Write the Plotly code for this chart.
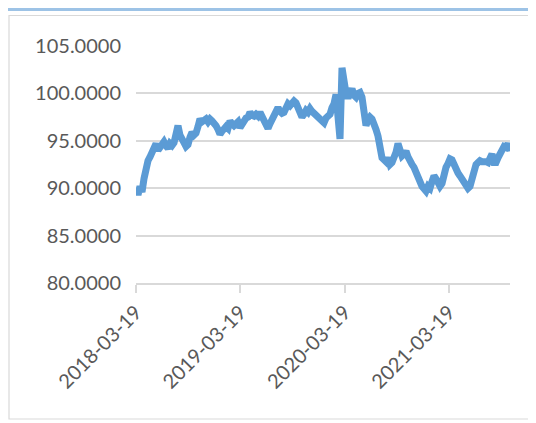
import pandas as pd
import plotly.graph_objects as go

start_date = "2018-03-19"
values = [
    90.0, 89.3, 90.2, 89.6, 91.0, 92.2, 92.9, 93.3, 93.7, 94.4,
    94.7, 94.0, 94.3, 94.8, 94.9, 94.5, 94.2, 94.7, 94.5, 94.8,
    95.5, 96.6, 95.6, 95.0, 94.8, 94.4, 94.6, 95.4, 95.9, 95.6,
    95.8, 96.5, 97.3, 97.0, 97.2, 97.3, 97.0, 97.3, 97.1, 96.9,
    96.6, 96.2, 95.7, 96.0, 96.4, 96.5, 96.3, 97.1, 96.8, 96.6,
    96.8, 97.0, 96.4, 96.8, 97.2, 97.4, 97.5, 98.0, 97.7, 97.6,
    97.8, 97.6, 98.0, 97.6, 97.0, 96.6, 96.3, 96.8, 97.3, 97.6,
    98.0, 98.5, 98.1, 97.9, 98.0, 98.5, 98.9, 98.7, 99.1, 99.2,
    99.0, 98.5, 98.0, 97.5, 97.8, 98.2, 98.0, 98.4, 98.1, 97.9,
    97.7, 97.6, 97.3, 97.0, 96.9, 97.4, 97.6, 97.8, 98.5, 98.9,
    99.9, 97.5, 95.2, 102.7, 101.0, 100.0, 99.5, 100.2, 100.5, 99.8,
    99.6, 100.0, 100.1, 99.6, 98.0, 96.6, 97.2, 97.5, 97.3, 96.9,
    96.2, 95.5, 94.3, 93.2, 93.0, 92.8, 93.2, 92.5, 92.7, 93.2,
    93.8, 94.7, 93.8, 93.4, 93.6, 93.9, 93.3, 92.7, 92.5, 92.2,
    91.8, 91.2, 90.7, 90.2, 89.8, 89.7, 90.2, 90.0, 90.7, 91.3,
    91.0, 90.4, 90.2, 90.5, 91.5, 92.2, 92.6, 93.1, 93.0, 92.4,
    91.9, 91.6, 91.3, 91.0, 90.6, 90.2, 90.0, 90.2, 91.0, 92.0,
    92.5, 92.7, 92.9, 92.8, 92.9, 92.8, 92.7, 93.2, 93.6, 92.7,
    92.7, 93.2, 93.6, 94.3, 94.4, 94.3, 94.7, 93.9,
]
dates = pd.date_range(start_date, periods=len(values), freq="7D")

x_tick_vals = ["2018-03-19", "2019-03-19", "2020-03-19", "2021-03-19"]
y_tick_vals = [80, 85, 90, 95, 100, 105]
y_tick_text = ["%.4f" % v for v in y_tick_vals]

FONT = "Lato"
GRID = "#D9D9D9"
TEXT = "#595959"

fig = go.Figure()
fig.add_trace(go.Scatter(
    x=dates, y=values, mode="lines",
    line=dict(color="#5B9BD5", width=7),
    hoverinfo="skip",
))

# page body has an 8px default margin; size the figure to sit inside the window
OFF = 8
W, H = 536 - OFF, 423 - OFF
# plot area in page pixels: x 136..510, y 46..283
ml = 136 - OFF
mt = 46 - OFF
mr = W - (510 - OFF)
mb = H - (283 - OFF)
pw, ph = W - ml - mr, H - mt - mb

def px(x):  # page pixel -> paper coordinate
    return (x - OFF - ml) / pw

def py(y):
    return (H - mb - (y - OFF)) / ph

fig.update_layout(
    template="none",
    width=W, height=H,
    margin=dict(l=ml, r=mr, t=mt, b=mb, autoexpand=False),
    paper_bgcolor="white", plot_bgcolor="white",
    showlegend=False,
    font=dict(family=FONT, size=20, color=TEXT),
    xaxis=dict(
        type="date", automargin=False,
        range=[dates[0], dates[-1]],
        tickvals=x_tick_vals, ticktext=x_tick_vals,
        tickangle=-45,
        showgrid=False, zeroline=False,
        showline=True, linecolor=GRID, linewidth=1.5,
        ticks="outside", ticklen=8, tickcolor=GRID, tickwidth=1.5,
        tickfont=dict(family=FONT, size=20, color=TEXT),
    ),
    yaxis=dict(
        range=[80, 105], automargin=False,
        tickvals=y_tick_vals, ticktext=y_tick_text,
        showgrid=True, gridcolor=GRID, gridwidth=1.5,
        zeroline=False, showline=False, ticks="",
        ticklabelstandoff=14,
        tickfont=dict(family=FONT, size=20, color=TEXT),
    ),
    shapes=[
        dict(type="line", xref="paper", yref="paper",
             x0=px(0), x1=px(540), y0=py(9.5), y1=py(9.5),
             line=dict(color="#9DC3E6", width=3)),
        dict(type="rect", xref="paper", yref="paper",
             x0=px(9), x1=px(545), y0=py(419), y1=py(15.5),
             line=dict(color=GRID, width=1.2)),
    ],
)

fig.write_html("out.html")
